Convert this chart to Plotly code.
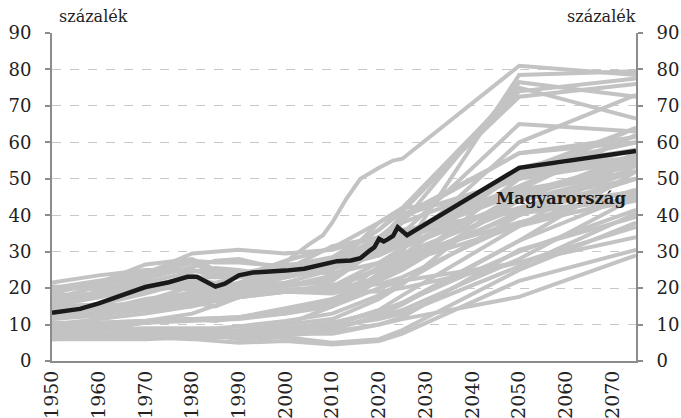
import plotly.graph_objects as go

# Anchor years for the gray country series
years = [1950, 1960, 1970, 1980, 1985, 1990, 2000, 2010, 2020, 2025, 2050, 2075]

# Gray series: other countries (values in percent)
france      = [21.5, 23.5, 25, 25, 23, 24, 26, 27, 34, 38, 50, 55]
uk          = [19, 21.5, 24.5, 27.5, 27, 27, 26, 26, 30, 32, 44, 52]
sweden      = [17, 20.5, 24, 29.5, 30, 30.5, 29.5, 30.5, 34, 36, 41, 44.5]
austria     = [18.5, 21.5, 26.5, 28, 25, 24.5, 24, 26.5, 29, 32, 53, 60]
belgium     = [20, 22, 24, 25, 23.5, 24, 26.5, 27, 31, 34, 47, 52]
germany     = [16, 19, 23.5, 27, 24, 23.5, 25, 31.5, 34, 39, 57, 61.5]
switzerland = [15.5, 17.5, 20.5, 23, 23, 23, 24, 25.5, 29, 32, 52, 56]
denmark     = [16.5, 18.5, 21.5, 24.5, 25.5, 25, 23, 25.5, 32, 34, 42, 46.5]
norway      = [16, 18.5, 22.5, 26, 27.5, 28, 25, 24, 27, 29.5, 42, 52]
italy       = [14, 15.5, 18.5, 22, 21.5, 23, 27.5, 31, 38, 42, 75, 66.5]
estonia     = [18, 18.5, 19.5, 20.5, 19.5, 19, 23, 26, 32, 35, 48, 62]
latvia      = [20.5, 19.5, 20.5, 21.5, 20.5, 19.5, 24, 27, 33, 40, 50, 64]
ireland     = [19.5, 20.5, 20.5, 19.5, 19, 19, 19, 18.5, 22, 25, 44, 57]
czechia     = [13, 15.5, 19, 23.5, 21, 20, 20.5, 22, 31, 33, 51, 56]
luxembourg  = [15, 17.5, 20, 21.5, 20.5, 20.5, 21.5, 21, 21, 23, 38, 47]
new_zealand = [15, 15.5, 15, 16, 17, 18, 19, 20, 25, 28, 40, 50]
australia   = [13, 14, 14, 16, 17.5, 18, 19.5, 20.5, 25, 27, 37, 45]
usa         = [13, 15, 16, 17.5, 18.5, 19.5, 19.5, 20, 25.5, 29, 38, 44]
spain       = [12, 13.5, 15.5, 18, 19, 21, 25, 25.5, 31, 38, 76.5, 72.5]
greece      = [12, 12.5, 16.5, 20.5, 20, 21.5, 26, 28.5, 36, 41, 74, 77.5]
portugal    = [12.5, 14, 17, 18.5, 19.5, 21, 25, 27.5, 36, 42, 72.5, 76]
finland     = [12, 13, 15, 18.5, 19.5, 20.5, 23, 25.5, 38, 42, 45, 54]
netherlands = [13, 14.5, 16, 18.5, 18.5, 19.5, 20.5, 23, 31, 34, 46, 52]
lithuania   = [14, 14, 15.5, 17, 17.5, 18.5, 21.5, 25, 31, 34, 53, 58]
slovenia    = [12.5, 13.5, 15.5, 17.5, 17.5, 18, 20.5, 23.5, 31, 35, 65, 63]
canada      = [13.5, 13.5, 14, 15, 16.5, 17.5, 19, 20.5, 27, 31, 44, 50]
bulgaria    = [12, 13, 15.5, 19, 19, 20, 24.5, 26, 33, 40, 57, 60]
iceland     = [14.5, 15, 16, 17, 17.5, 18, 19, 19, 23, 26, 41, 50]
russia      = [11.5, 12.5, 14, 16, 15, 17.5, 19.5, 19, 23, 27, 40.5, 44.6]
argentina   = [10, 11.5, 13, 15, 16.5, 17.5, 19, 19.5, 19, 20, 27, 34]
korea       = [6, 6.5, 7, 7, 7.5, 8, 10, 15, 22, 30, 78.5, 79.5]
poland      = [8, 9, 11, 11.5, 11, 12, 14, 16, 26, 31, 60, 73]
slovakia    = [10.5, 10.5, 11, 11.5, 11.5, 12, 13.5, 15.5, 24, 29, 52, 64]
israel      = [6.5, 8.5, 10.5, 11.5, 11.5, 12, 13, 15, 20, 22, 27, 36.8]
turkey      = [6.5, 6.5, 8, 8, 7.5, 7.5, 9, 10.5, 13.5, 16, 33, 46]
mexico      = [7.5, 7.5, 8, 8, 7.5, 7.5, 8, 9.5, 11.5, 13, 26, 40.5]
chile       = [8.5, 8.5, 9, 9, 9, 9.5, 11, 13, 18, 21.5, 40, 53.5]
colombia    = [7, 7.5, 7, 7, 7, 7, 7.5, 8.5, 12.5, 15.5, 33, 52]
costa_rica  = [7, 7.5, 7.5, 7.5, 7.5, 7.5, 8.5, 10, 14, 18, 37, 56]
brazil      = [6, 6.5, 6.5, 7, 7, 7.5, 8.5, 10, 13.5, 16, 30, 41.5]
india       = [6, 6, 6, 6.5, 6.5, 6.5, 7, 8, 10, 11.5, 17.6, 29]
south_africa= [6.5, 6.5, 6.5, 6, 5.5, 5, 5.5, 4.5, 5.5, 7.5, 22, 30.5]
indonesia   = [6.5, 7, 7.5, 7, 6.5, 7, 7.5, 7.5, 10, 12, 30.5, 39.5]
china       = [8, 7.5, 7.5, 8, 8, 8.5, 10, 11.5, 17, 21, 47, 62]
cyprus      = [10, 10.5, 11, 11.5, 11.5, 12, 14.5, 17, 23, 27, 46, 55]
saudi       = [9, 9, 8.5, 8, 7, 6, 6.5, 5, 6, 8.5, 25, 38]
malta       = [10.5, 10, 10.5, 11, 11, 11.5, 13, 15.5, 22, 26, 50, 58]
peru        = [6.5, 6.5, 6.5, 6.5, 6.5, 7, 8, 9, 12, 14, 28, 45]

gray_series = [france, uk, sweden, austria, belgium, germany, switzerland, denmark,
               norway, italy, estonia, latvia, ireland, czechia, luxembourg,
               new_zealand, australia, usa, spain, greece, portugal, finland,
               netherlands, lithuania, slovenia, canada, bulgaria, iceland,
               russia, argentina, korea, poland, slovakia, israel, turkey, mexico,
               chile, colombia, costa_rica, brazil, india, south_africa, indonesia,
               china, cyprus, saudi, malta, peru]

# Japan has its own, denser set of anchor years
japan_years  = [1950, 1960, 1970, 1980, 1990, 2000, 2005, 2008, 2010, 2013, 2016, 2020, 2023, 2025, 2050, 2075]
japan_values = [9.5, 10, 11, 13, 17.5, 27, 32, 34.5, 38, 44.5, 50, 53, 55, 55.5, 81, 78.5]

# Hungary (black line)
hu_years = [1950, 1953, 1956, 1960, 1965, 1970, 1975, 1979, 1981, 1985, 1987, 1990,
            1993, 1997, 2000, 2004, 2008, 2011, 2014, 2016, 2018, 2019, 2020, 2021,
            2022, 2023, 2024, 2025, 2026, 2050, 2075]
hu_values = [13.2, 13.6, 14.3, 15.8, 18.2, 20.3, 21.6, 23.1, 23.1, 20.4, 21.2, 23.5,
             24.3, 24.5, 24.8, 25.3, 26.6, 27.4, 27.6, 28.2, 30.3, 31.2, 33.5, 32.8,
             33.5, 34.3, 36.7, 35.5, 34.5, 53.0, 57.6]

x_ticks = [1950, 1960, 1970, 1980, 1990, 2000, 2010, 2020, 2030, 2040, 2050, 2060, 2070]
y_ticks = [0, 10, 20, 30, 40, 50, 60, 70, 80, 90]

FONT = "DejaVu Serif"
AXIS_COLOR = "#8c8c8c"
GRAY = "#c3c3c3"

fig = go.Figure()
for s in gray_series:
    fig.add_trace(go.Scatter(x=years, y=s, mode="lines",
                             line=dict(color=GRAY, width=4),
                             showlegend=False, hoverinfo="skip"))
fig.add_trace(go.Scatter(x=japan_years, y=japan_values, mode="lines",
                         line=dict(color=GRAY, width=4),
                         showlegend=False, hoverinfo="skip"))

fig.add_trace(go.Scatter(x=hu_years, y=hu_values, mode="lines", yaxis="y2",
                         line=dict(color="#1a1a1a", width=4.5),
                         name="Magyarország", showlegend=False))

yaxis_common = dict(range=[0, 90], tickvals=y_ticks, showline=True,
                    linecolor=AXIS_COLOR, linewidth=2, ticks="outside",
                    ticklen=5, tickcolor=AXIS_COLOR, tickwidth=1.5,
                    tickfont=dict(family=FONT, size=18, color="#222"),
                    zeroline=False, fixedrange=True, ticklabelstandoff=10)

fig.update_layout(
    width=681, height=418,
    margin=dict(l=52, r=45, t=33, b=57, autoexpand=False),
    paper_bgcolor="white", plot_bgcolor="white",
    xaxis=dict(range=[1950, 2075], tickvals=x_ticks, tickangle=-90,
               showline=True, linecolor=AXIS_COLOR, linewidth=2, ticks="",
               showgrid=False, zeroline=False, automargin=False,
               ticklabelstandoff=0, fixedrange=True,
               tickfont=dict(family=FONT, size=19, color="#222")),
    yaxis=dict(showgrid=True, gridcolor="#c8c8c8", griddash="dash", gridwidth=1,
               side="left", automargin=False, **yaxis_common),
    yaxis2=dict(overlaying="y", side="right", showgrid=False, automargin=False,
                **yaxis_common),
    annotations=[
        dict(text="százalék", xref="paper", yref="paper", x=0.008, y=1.05,
             xanchor="left", yanchor="middle", showarrow=False,
             font=dict(family=FONT, size=16, color="#222")),
        dict(text="százalék", xref="paper", yref="paper", x=1.003, y=1.05,
             xanchor="right", yanchor="middle", showarrow=False,
             font=dict(family=FONT, size=16, color="#222")),
        dict(text="<b>Magyarország</b>", xref="x", yref="y", x=2059, y=44.7,
             xanchor="center", yanchor="middle", showarrow=False,
             font=dict(family=FONT, size=16.5, color="#1a1a1a")),
    ],
)

fig.write_html("out.html", config={"displayModeBar": False},
               post_script="document.body.style.margin='0';document.body.style.overflow='hidden';")
